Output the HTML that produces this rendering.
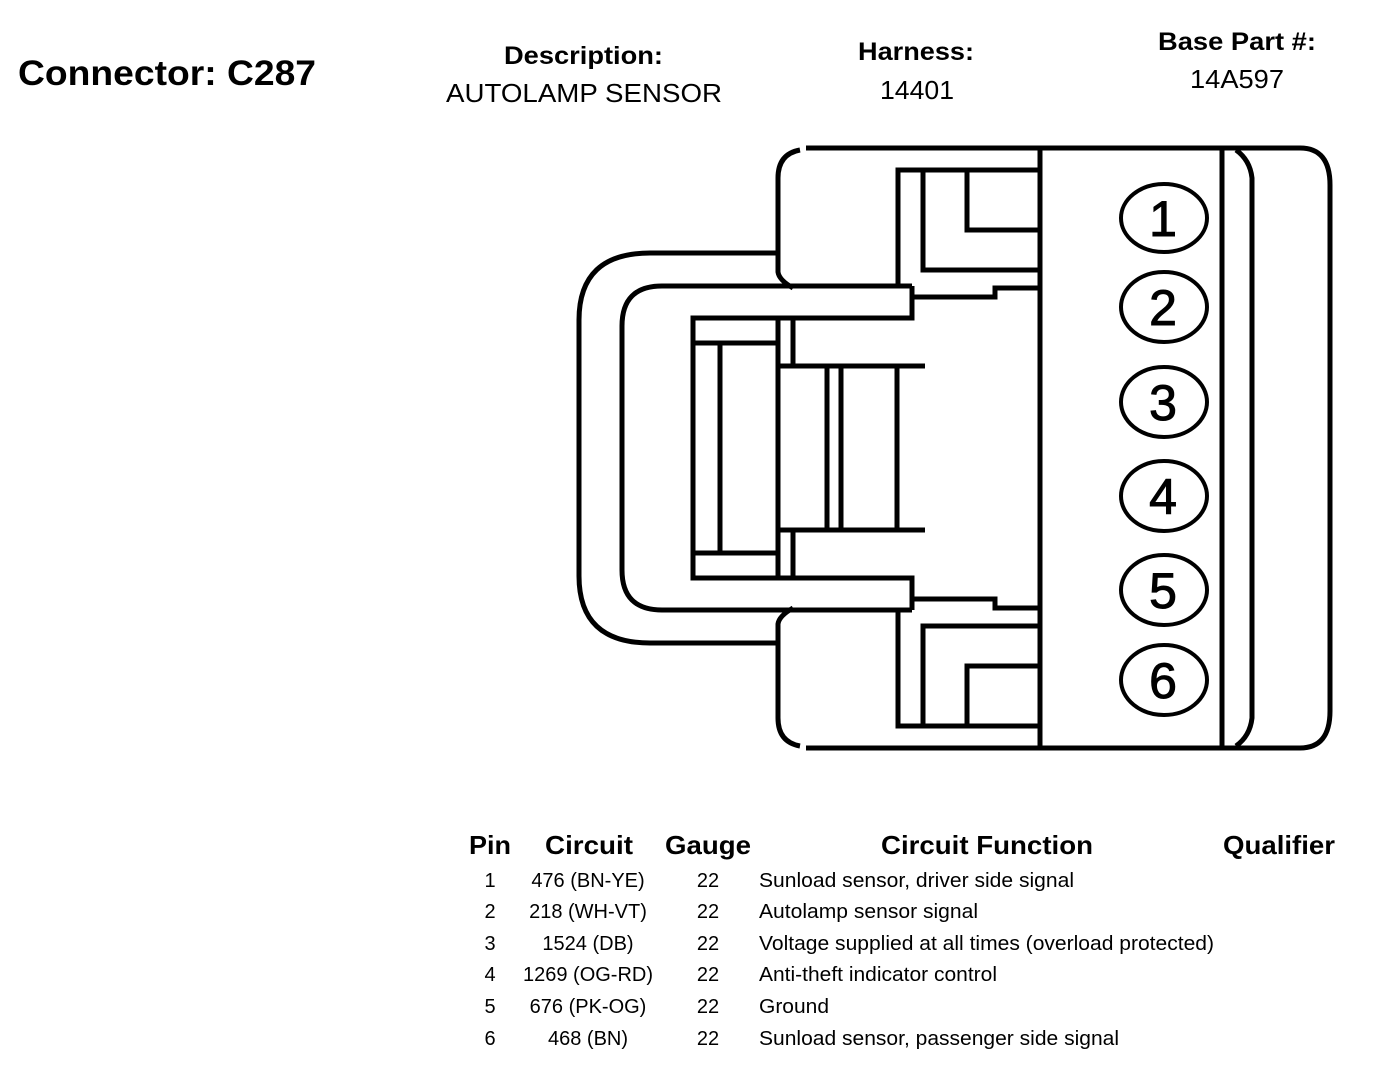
<!DOCTYPE html>
<html><head><meta charset="utf-8"><style>
html,body{margin:0;padding:0;background:#fff;}
svg{display:block;}
text{font-family:"Liberation Sans",Arial,sans-serif;fill:#000;}
</style></head><body>
<svg width="1376" height="1072" viewBox="0 0 1376 1072" xmlns="http://www.w3.org/2000/svg">
<text x="18" y="85" font-size="35" font-weight="bold" textLength="298" lengthAdjust="spacingAndGlyphs">Connector: C287</text>
<text x="504" y="64" font-size="25" font-weight="bold" textLength="159" lengthAdjust="spacingAndGlyphs">Description:</text>
<text x="446" y="102" font-size="26" textLength="276" lengthAdjust="spacingAndGlyphs">AUTOLAMP SENSOR</text>
<text x="858" y="60" font-size="25" font-weight="bold" textLength="116" lengthAdjust="spacingAndGlyphs">Harness:</text>
<text x="880" y="99" font-size="26" textLength="74" lengthAdjust="spacingAndGlyphs">14401</text>
<text x="1158" y="50" font-size="25" font-weight="bold" textLength="158" lengthAdjust="spacingAndGlyphs">Base Part #:</text>
<text x="1190" y="88" font-size="26" textLength="94" lengthAdjust="spacingAndGlyphs">14A597</text>

<g fill="none" stroke="#000" stroke-width="5">
<g id="half">
<path d="M806 148 L1300 148 Q1330 148 1330 185 L1330 448"/>
<path d="M800 150 Q778 154 778 178 L778 272 Q779 280 793 288"/>
<path d="M778 253 L650 253 Q579 253 579 320 L579 448"/>
<path d="M912 286 L662 286 Q622 286 622 326 L622 448"/>
<path d="M912 286 L912 318 L693 318 L693 448"/>
<path d="M693 343 L778 343"/>
<path d="M720 343 L720 448"/>
<path d="M778 318 L778 448"/>
<path d="M793 318 L793 366"/>
<path d="M778 366 L925 366"/>
<path d="M827 366 L827 448 M841 366 L841 448 M897 366 L897 448"/>
<path d="M912 297 L995 297 L995 288 L1040 288"/>
<path d="M1040 170 L898 170 L898 286"/>
<path d="M923 170 L923 270 L1040 270"/>
<path d="M967 170 L967 230 L1040 230"/>
<path d="M1236 150 Q1250 160 1252 178 L1252 448"/>
</g>
<use href="#half" transform="matrix(1,0,0,-1,0,896)"/>
<path d="M1040 148 L1040 748 M1222 148 L1222 748"/>
<g stroke-width="4">
<ellipse cx="1164" cy="218" rx="43" ry="34"/>
<ellipse cx="1164" cy="307" rx="43" ry="35"/>
<ellipse cx="1164" cy="402" rx="43" ry="35"/>
<ellipse cx="1164" cy="496" rx="43" ry="35"/>
<ellipse cx="1164" cy="590" rx="43" ry="35"/>
<ellipse cx="1164" cy="680" rx="43" ry="35"/>
</g>
</g>
<g font-size="50" text-anchor="middle" stroke="#000" stroke-width="1">
<text x="1163" y="236">1</text>
<text x="1163" y="325">2</text>
<text x="1163" y="420">3</text>
<text x="1163" y="514">4</text>
<text x="1163" y="608">5</text>
<text x="1163" y="698">6</text>
</g>

<g font-size="26" font-weight="bold">
<text x="469" y="854" textLength="42" lengthAdjust="spacingAndGlyphs">Pin</text>
<text x="545" y="854" textLength="88" lengthAdjust="spacingAndGlyphs">Circuit</text>
<text x="665" y="854" textLength="86" lengthAdjust="spacingAndGlyphs">Gauge</text>
<text x="881" y="854" textLength="212" lengthAdjust="spacingAndGlyphs">Circuit Function</text>
<text x="1223" y="854" textLength="112" lengthAdjust="spacingAndGlyphs">Qualifier</text>
</g>
<g font-size="20">
<g text-anchor="middle">
<text x="490" y="887">1</text><text x="588" y="887">476 (BN-YE)</text><text x="708" y="887">22</text>
<text x="490" y="918">2</text><text x="588" y="918">218 (WH-VT)</text><text x="708" y="918">22</text>
<text x="490" y="950">3</text><text x="588" y="950">1524 (DB)</text><text x="708" y="950">22</text>
<text x="490" y="981">4</text><text x="588" y="981">1269 (OG-RD)</text><text x="708" y="981">22</text>
<text x="490" y="1013">5</text><text x="588" y="1013">676 (PK-OG)</text><text x="708" y="1013">22</text>
<text x="490" y="1045">6</text><text x="588" y="1045">468 (BN)</text><text x="708" y="1045">22</text>
</g>
<text x="759" y="887" textLength="315" lengthAdjust="spacingAndGlyphs">Sunload sensor, driver side signal</text>
<text x="759" y="918" textLength="219" lengthAdjust="spacingAndGlyphs">Autolamp sensor signal</text>
<text x="759" y="950" textLength="455" lengthAdjust="spacingAndGlyphs">Voltage supplied at all times (overload protected)</text>
<text x="759" y="981" textLength="238" lengthAdjust="spacingAndGlyphs">Anti-theft indicator control</text>
<text x="759" y="1013" textLength="70" lengthAdjust="spacingAndGlyphs">Ground</text>
<text x="759" y="1045" textLength="360" lengthAdjust="spacingAndGlyphs">Sunload sensor, passenger side signal</text>
</g>
</svg>
</body></html>
